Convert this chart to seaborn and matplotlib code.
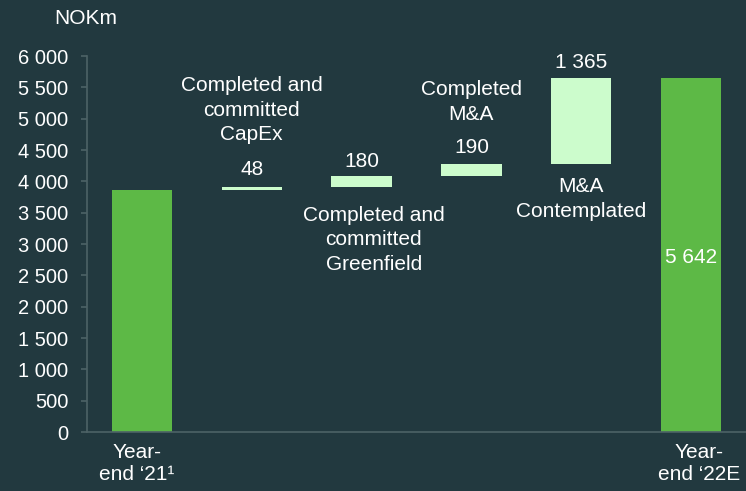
import matplotlib
matplotlib.use("Agg")
import matplotlib.pyplot as plt
import seaborn as sns
import numpy as np
from matplotlib.ticker import FuncFormatter

# Waterfall data (NOKm)
steps = ["start", "capex", "greenfield", "ma_done", "ma_planned", "end"]
values = [3859, 48, 180, 190, 1365, 5642]
tick_labels = ["Year-\nend \u201821\u00b9", "Year-\nend \u201822E"]
value_labels = ["", "48", "180", "190", "1 365", "5 642"]

bg = "#22393F"
dark_green = "#5DB946"
light_green = "#CCFCCC"
axis_grey = "#4D6266"

# bases / tops for the floating bars
bases = [0]
running = values[0]
for v in values[1:-1]:
    bases.append(running)
    running += v
bases.append(0)
tops = [b + v for b, v in zip(bases, values)]

colors = {s: light_green for s in steps}
colors["start"] = dark_green
colors["end"] = dark_green

sns.set_style("dark")
plt.rcParams["font.family"] = ["Liberation Sans", "DejaVu Sans"]

fig = plt.figure(figsize=(7.46, 4.91), dpi=100, facecolor=bg)
ax = fig.add_axes([87 / 746, 1 - 432 / 491, 1 - 87 / 746, (432 - 56) / 491])
ax.set_facecolor(bg)

sns.barplot(x=steps, y=tops, hue=steps, palette=colors, legend=False,
            width=0.55, saturation=1, linewidth=0, ax=ax, zorder=1)
# mask the part below each floating bar
sns.barplot(x=steps, y=bases, color=bg, width=0.57, saturation=1,
            linewidth=0, ax=ax, zorder=1.5)

ax.set_xlim(-0.5, 5.5)
ax.set_ylim(0, 6000)
ax.set_yticks(np.arange(0, 6001, 500))
ax.yaxis.set_major_formatter(FuncFormatter(lambda v, p: f"{v:,.0f}".replace(",", " ")))
# category labels only under the two totals (sit slightly off the bar centres)
ax.set_xticks([-0.045, 5.07])
ax.set_xticklabels(tick_labels, linespacing=1.22)
ax.tick_params(axis="y", colors=axis_grey, labelcolor="white", labelsize=14.5,
               length=4.5, width=1.2, left=True, pad=9)
ax.tick_params(axis="x", length=0, labelcolor="white", labelsize=15, pad=8)
ax.grid(False)
for side in ["top", "right"]:
    ax.spines[side].set_visible(False)
for side in ["left", "bottom"]:
    ax.spines[side].set_visible(True)
    ax.spines[side].set_color(axis_grey)
    ax.spines[side].set_linewidth(1.2)
ax.set_xlabel("")
ax.set_ylabel("")

txt = dict(color="white", fontsize=15, ha="center", va="center", linespacing=1.38)
ax.text(1, 4181, value_labels[1], **txt)
ax.text(1, 5138, "Completed and\ncommitted\nCapEx", **txt)
ax.text(2, 4324, value_labels[2], **txt)
ax.text(2.11, 3064, "Completed and\ncommitted\nGreenfield", **txt)
ax.text(3, 4532, value_labels[3], **txt)
ax.text(3, 5270, "Completed\nM&A", **txt)
ax.text(4, 5904, value_labels[4], **txt)
ax.text(4, 3720, "M&A\nContemplated", **txt)
ax.text(5, 2777, value_labels[5], **txt)

fig.text(86 / 746, 1 - 18 / 491, "NOKm", color="white", fontsize=15, ha="center", va="center")

fig.savefig("out.png", dpi=100, facecolor=bg)
